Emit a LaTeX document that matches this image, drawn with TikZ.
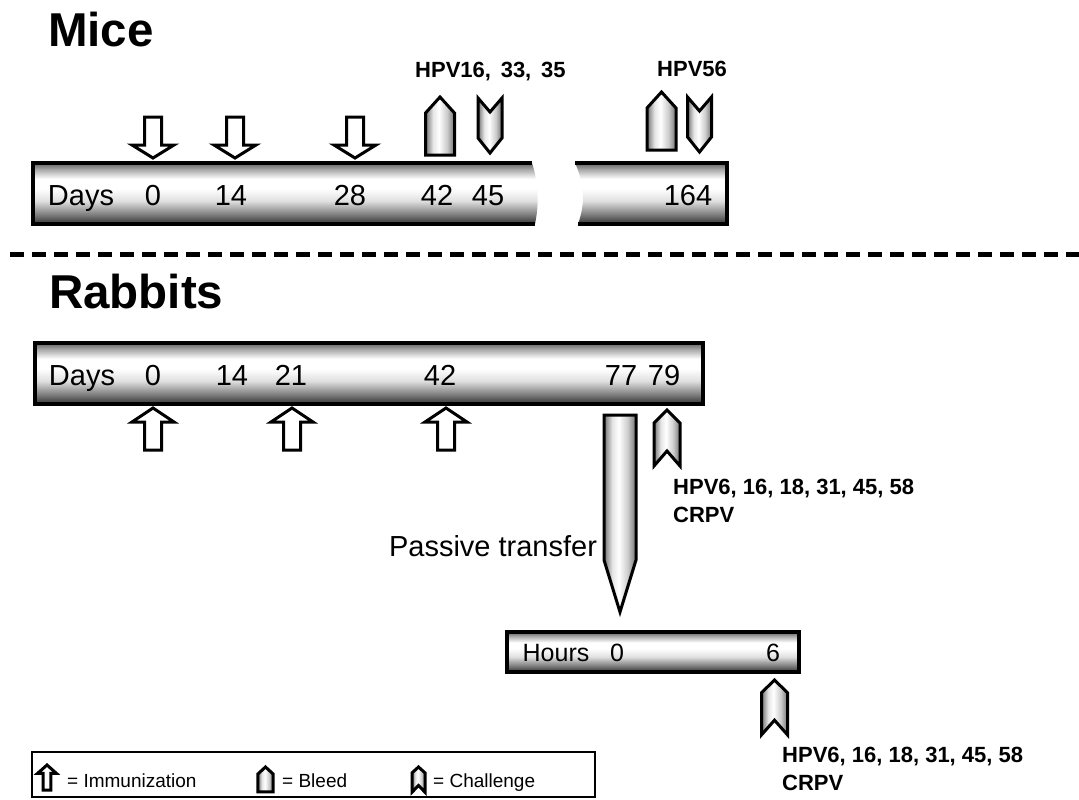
\documentclass[tikz,border=0pt]{standalone}
\usepackage{fontspec}
\setmainfont{Liberation Sans}
\usetikzlibrary{positioning}

% shadings for the bars (vertical) and for the marks (horizontal)
\pgfdeclareverticalshading{barshade}{100bp}{color(0bp)=(black!80); color(25bp)=(black!80); color(33bp)=(black!50); color(44bp)=(black!12); color(54bp)=(white); color(62bp)=(white); color(70bp)=(black!35); color(75bp)=(black!62); color(100bp)=(black!62)}
\pgfdeclarehorizontalshading{markshade}{100bp}{color(0bp)=(black!55); color(25bp)=(black!55); color(38bp)=(black!10); color(48bp)=(white); color(62bp)=(black!20); color(75bp)=(black!55); color(100bp)=(black!55)}

\tikzset{
  immdown/.pic={\draw[markline, fill=white] (-8.5,-41) -- (8.5,-41) -- (8.5,-13) -- (21,-13) -- (0,0) -- (-21,-13) -- (-8.5,-13) -- cycle;},
  immup/.pic={\draw[markline, fill=white] (-8.5,42) -- (8.5,42) -- (8.5,14) -- (21,14) -- (0,0) -- (-21,14) -- (-8.5,14) -- cycle;},
  bleedmark/.pic={\draw[markline, shade, shading=markshade] (0,0) -- (14.5,16) -- (14.5,58) -- (-14.5,58) -- (-14.5,16) -- cycle;},
  chaldown/.pic={\draw[markline, shade, shading=markshade] (-12,0) -- (0,14) -- (12,0) -- (12,40) -- (0,55) -- (-12,40) -- cycle;},
  chalup/.pic={\draw[markline, shade, shading=markshade] (0,0) -- (13,13) -- (13,56) -- (0,41) -- (-13,56) -- (-13,13) -- cycle;},
}

\begin{document}
\begin{tikzpicture}[x=1bp, y=-1bp,
    markline/.style={line width=3bp, line join=miter, draw=black},
    barline/.style={line width=4.5bp, draw=black},
    daytext/.style={font=\fontsize{29bp}{33bp}\selectfont, anchor=base, inner sep=0pt},
    hourtext/.style={font=\fontsize{25bp}{29bp}\selectfont, anchor=base, inner sep=0pt},
    titletext/.style={font=\fontsize{47.5bp}{52bp}\selectfont\bfseries, anchor=base west, inner sep=0pt},
    hpvtext/.style={font=\fontsize{22bp}{26bp}\selectfont\bfseries, anchor=base west, inner sep=0pt},
    keytext/.style={font=\fontsize{19bp}{22bp}\selectfont, anchor=base west, inner sep=0pt}]

    \useasboundingbox (0,0) rectangle (1079,800);

    % Mice
    \node[titletext] (mice) at (48,47) {Mice};

    % broken bar, left piece
    \shade[shading=barshade] (33,163) -- (532,163) .. controls (539,185) and (539,205) .. (535,224) -- (33,224) -- cycle;
    \draw[barline] (532,163) -- (33,163) -- (33,224) -- (535,224);
    % broken bar, right piece
    \shade[shading=barshade] (575,163) -- (727,163) -- (727,224) -- (578,224) .. controls (585,205) and (585,185) .. (575,163);
    \draw[barline] (575,163) -- (727,163) -- (727,224) -- (578,224);

    \node[daytext] (mdays) at (81,205) {Days};
    \node[daytext] (m0) at (153,205) {0};
    \node[daytext] (m14) at (231,205) {14};
    \node[daytext] (m28) at (350,205) {28};
    \node[daytext] (m42) at (437,205) {42};
    \node[daytext] (m45) at (488,205) {45};
    \node[daytext] (m164) at (688,205) {164};

    % immunizations, bleeds and challenges
    \pic at (153,158) {immdown};
    \pic at (235,158) {immdown};
    \pic at (355,158) {immdown};
    \pic at (440,97) {bleedmark};
    \pic at (490,98) {chaldown};
    \pic at (661.5,92) {bleedmark};
    \pic at (699.5,97) {chaldown};

    \node[hpvtext] (mhpv1) at (415,78) {HPV16,\, 33,\, 35};
    \node[hpvtext] (mhpv2) at (657,77) {HPV56};

    % separator
    \coordinate (sepa) at (10,254);
    \coordinate (sepb) at (1079,254);
    \draw[line width=5bp, dash pattern=on 14bp off 8bp] (sepa) -- (sepb);

    % Rabbits
    \node[titletext] (rabbits) at (49,308) {Rabbits};

    \draw[barline, shade, shading=barshade] (35,343) rectangle (703,404);
    \node[daytext] (rdays) at (82,385) {Days};
    \node[daytext] (r0) at (153,385) {0};
    \node[daytext] (r14) at (232,385) {14};
    \node[daytext] (r21) at (291,385) {21};
    \node[daytext] (r42) at (440,385) {42};
    \node[daytext] (r77) at (621,385) {77};
    \node[daytext] (r79) at (664,385) {79};

    \pic at (153,408) {immup};
    \pic at (292,408) {immup};
    \pic at (446,408) {immup};
    \pic at (667,410) {chalup};

    \node[hpvtext] (rhpv) at (673,494) {HPV6, 16, 18, 31, 45, 58};
    \node[hpvtext] (rcrpv) at (673,522) {CRPV};

    % passive transfer
    \draw[markline, shade, shading=markshade] (604,415) -- (636,415) -- (636,560) -- (620,612) -- (604,560) -- cycle;
    \node[daytext] (passive) at (493,556) {Passive transfer};

    % hours bar
    \draw[barline, shade, shading=barshade] (507,632) rectangle (799,672);
    \node[hourtext] (hours) at (556,661) {Hours};
    \node[hourtext] (h0) at (617,661) {0};
    \node[hourtext] (h6) at (773,661) {6};

    \pic[yscale=0.98] at (774.5,680) {chalup};
    \node[hpvtext] (hhpv) at (782,762) {HPV6, 16, 18, 31, 45, 58};
    \node[hpvtext] (hcrpv) at (782,790) {CRPV};

    % key
    \draw[line width=2.5bp] (32,752) rectangle (595,797);
    \pic[xscale=0.45, yscale=0.6] at (47,765) {immup};
    \node[keytext] (kimm) at (67,787) {= Immunization};
    \pic[xscale=0.52, yscale=0.43] at (265.5,767) {bleedmark};
    \node[keytext] (kbleed) at (282,787) {= Bleed};
    \pic[xscale=0.5, yscale=0.45] at (418.5,767) {chalup};
    \node[keytext] (kchal) at (433,787) {= Challenge};

\end{tikzpicture}
\end{document}
